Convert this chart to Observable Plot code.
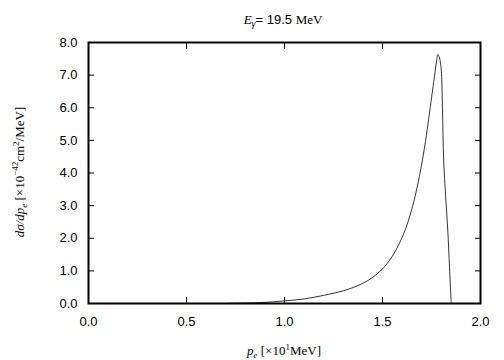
<!DOCTYPE html>
<html>
<head>
<meta charset="utf-8">
<script src="https://cdn.jsdelivr.net/npm/d3@7"></script>
<script src="https://cdn.jsdelivr.net/npm/@observablehq/plot@0.6"></script>
<style>
  html, body { margin: 0; padding: 0; background: #fff; }
  svg { display: block; }
</style>
</head>
<body>
<div id="chart"></div>
<script>
const pe = [0.70,0.80,0.90,1.00,1.10,1.20,1.30,1.35,1.40,1.45,1.50,1.55,1.60,1.63,1.66,1.69,1.72,1.75,1.765,1.775,1.782,1.79,1.795,1.800,1.806,1.812,1.822,1.833,1.842,1.849,1.851];
const dsig = [0.005,0.015,0.035,0.08,0.14,0.25,0.39,0.49,0.62,0.80,1.06,1.45,2.02,2.50,3.13,3.95,5.00,6.30,6.95,7.40,7.63,7.55,7.40,7.15,6.00,4.40,3.30,2.25,1.10,0.20,0.0];
const xTicks = [0.0,0.5,1.0,1.5,2.0];
const yTicks = [0,1,2,3,4,5,6,7,8];

const data = pe.map((p, i) => ({p, v: dsig[i]}));
const sans = "'Liberation Sans', Arial, Helvetica, sans-serif";
const serif = "'Liberation Serif', 'Times New Roman', serif";

const chart = Plot.plot({
  width: 504,
  height: 360,
  marginLeft: 88,
  marginRight: 24,
  marginTop: 42,
  marginBottom: 57,
  style: {fontFamily: sans, fontSize: "13px", color: "#000", background: "#fff"},
  x: {domain: [0, 2], ticks: xTicks},
  y: {domain: [0, 8], ticks: yTicks},
  marks: [
    Plot.axisX(xTicks, {anchor: "bottom", tickSize: 0, tickPadding: 13, tickFormat: d => d.toFixed(1), label: null, fontSize: 13}),
    Plot.axisY(yTicks, {anchor: "left", tickSize: 0, tickPadding: 11, tickFormat: d => d.toFixed(1), label: null, fontSize: 13}),
    Plot.axisX(xTicks.slice(1, -1), {anchor: "bottom", tickSize: -6, text: null, label: null, strokeWidth: 1}),
    Plot.axisX(xTicks.slice(1, -1), {anchor: "top", tickSize: -6, text: null, label: null, strokeWidth: 1}),
    Plot.axisY(yTicks.slice(1, -1), {anchor: "left", tickSize: -6, text: null, label: null, strokeWidth: 1}),
    Plot.axisY(yTicks.slice(1, -1), {anchor: "right", tickSize: -6, text: null, label: null, strokeWidth: 1}),
    Plot.line(data, {x: "p", y: "v", stroke: "#000", strokeWidth: 0.8, curve: "catmull-rom"}),
    Plot.frame({stroke: "#000", strokeWidth: 2})
  ]
});

const svg = d3.select(chart);

// Title
const t = svg.append("text")
  .attr("x", 283).attr("y", 24)
  .attr("text-anchor", "middle")
  .style("font-size", "13px").style("fill", "#000");
t.append("tspan").style("font-family", serif).style("font-style", "italic").text("E");
t.append("tspan").style("font-family", serif).style("font-style", "italic").style("font-size", "10px").attr("dy", 3).text("γ");
t.append("tspan").style("font-family", sans).attr("dy", -3).text("= 19.5 ");
t.append("tspan").style("font-family", serif).text("MeV");

// X label
const xl = svg.append("text")
  .attr("x", 284).attr("y", 355)
  .attr("text-anchor", "middle")
  .style("font-family", serif).style("font-size", "13px").style("fill", "#000");
xl.append("tspan").style("font-style", "italic").text("p");
xl.append("tspan").style("font-style", "italic").style("font-size", "9px").attr("dy", 3).text("e");
xl.append("tspan").attr("dy", -3).text(" [×10");
xl.append("tspan").style("font-size", "9px").attr("dy", -5).text("1");
xl.append("tspan").attr("dy", 5).text("MeV]");

// Y label
const yl = svg.append("text")
  .attr("transform", "translate(24,172) rotate(-90)")
  .attr("text-anchor", "middle")
  .style("font-family", serif).style("font-size", "13px").style("fill", "#000");
yl.append("tspan").style("font-style", "italic").text("dσ/dp");
yl.append("tspan").style("font-style", "italic").style("font-size", "9px").attr("dy", 3).text("e");
yl.append("tspan").attr("dy", -3).text(" [×10");
yl.append("tspan").style("font-size", "9px").attr("dy", -6).text("−42");
yl.append("tspan").attr("dy", 6).text("cm");
yl.append("tspan").style("font-size", "9px").attr("dy", -5).text("2");
yl.append("tspan").attr("dy", 5).text("/MeV]");

document.getElementById("chart").appendChild(chart);
</script>
</body>
</html>
